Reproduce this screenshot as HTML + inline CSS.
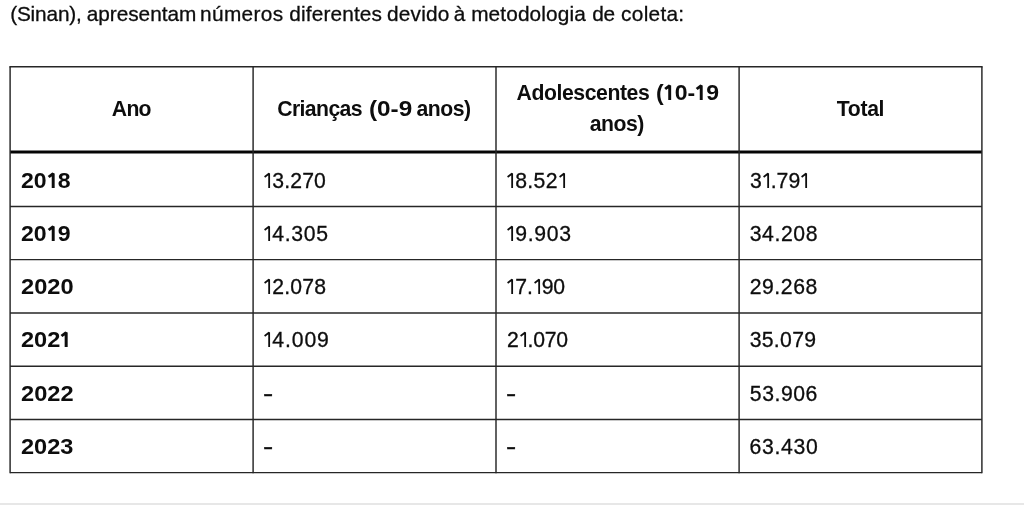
<!DOCTYPE html>
<html><head><meta charset="utf-8"><title>Tabela</title>
<style>
html,body{margin:0;padding:0;background:#fff;}
body{width:1024px;height:515px;overflow:hidden;position:relative;}
.wrap{position:absolute;left:0;top:0;width:1024px;height:515px;will-change:transform;}
.lines{position:absolute;left:0;top:0;}
.t{position:absolute;white-space:nowrap;font-family:"Liberation Sans",sans-serif;font-size:21.2px;line-height:31.2px;color:#0d0d0d;-webkit-text-stroke:0.3px #0d0d0d;}
.b{font-weight:bold;-webkit-text-stroke:0;}
.sm{font-size:20.8px;}
.o{vertical-align:baseline;fill:none;stroke:#0d0d0d;overflow:visible;}
.d{display:inline-block;transform:scaleX(1.45);transform-origin:0 0;}
</style></head>
<body>
<div class="wrap"><svg class="lines" width="1024" height="515" viewBox="0 0 1024 515" stroke="#262626"><line x1="9.375" y1="66.7" x2="982.625" y2="66.7" stroke-width="1.45"/><line x1="10.1" y1="152.0" x2="981.9" y2="152.0" stroke-width="3.0" stroke="#050505"/><line x1="10.1" y1="206.5" x2="981.9" y2="206.5" stroke-width="1.45"/><line x1="10.1" y1="259.6" x2="981.9" y2="259.6" stroke-width="1.45"/><line x1="10.1" y1="312.9" x2="981.9" y2="312.9" stroke-width="1.45"/><line x1="10.1" y1="366.2" x2="981.9" y2="366.2" stroke-width="1.45"/><line x1="10.1" y1="419.4" x2="981.9" y2="419.4" stroke-width="1.45"/><line x1="10.1" y1="472.6" x2="981.9" y2="472.6" stroke-width="1.45"/><line x1="10.1" y1="66.7" x2="10.1" y2="473.32500000000005" stroke-width="1.45"/><line x1="253.1" y1="66.7" x2="253.1" y2="473.32500000000005" stroke-width="1.45"/><line x1="496.0" y1="66.7" x2="496.0" y2="473.32500000000005" stroke-width="1.45"/><line x1="739.1" y1="66.7" x2="739.1" y2="473.32500000000005" stroke-width="1.45"/><line x1="981.9" y1="66.7" x2="981.9" y2="473.32500000000005" stroke-width="1.45"/><rect x="0" y="503" width="1024" height="2" fill="#e7e7e7" stroke="none"/></svg>
<div class="t sm" style="left:10.14px;top:-1.95px;letter-spacing:-0.154px">(Sinan),</div>
<div class="t sm" style="left:86.64px;top:-1.95px;letter-spacing:-0.011px">apresentam</div>
<div class="t sm" style="left:200.05px;top:-1.95px;letter-spacing:0.351px">números</div>
<div class="t sm" style="left:289.22px;top:-1.95px;letter-spacing:0.158px">diferentes</div>
<div class="t sm" style="left:386.90px;top:-1.95px;letter-spacing:0.246px">devido</div>
<div class="t sm" style="left:453.64px;top:-1.95px;letter-spacing:0.000px">à</div>
<div class="t sm" style="left:471.16px;top:-1.95px;letter-spacing:0.128px">metodologia</div>
<div class="t sm" style="left:592.37px;top:-1.95px;letter-spacing:-0.345px">de</div>
<div class="t sm" style="left:621.10px;top:-1.95px;letter-spacing:0.295px">coleta:</div>
<div class="t b" style="left:111.81px;top:92.85px;letter-spacing:-0.715px">Ano</div>
<div class="t b" style="left:277.17px;top:92.85px;letter-spacing:-0.581px">Crianças</div>
<div class="t b" style="left:369.40px;top:92.85px;transform:scaleX(1.1478);transform-origin:0 0">(0-9</div>
<div class="t b" style="left:416.60px;top:92.85px;letter-spacing:-0.542px">anos)</div>
<div class="t b" style="left:516.57px;top:77.15px;letter-spacing:-0.415px">Adolescentes</div>
<div class="t b" style="left:655.62px;top:77.15px;transform:scaleX(1.0874);transform-origin:0 0">(<svg class="o" width="10.2" height="16" viewBox="0 0 10.2 16"><path d="M1.4 5.0L5.60 1.6V16" stroke-width="2.7" stroke-linejoin="bevel"/></svg>0-<svg class="o" width="10.2" height="16" viewBox="0 0 10.2 16"><path d="M1.4 5.0L5.60 1.6V16" stroke-width="2.7" stroke-linejoin="bevel"/></svg>9</div>
<div class="t b" style="left:589.75px;top:108.25px;letter-spacing:-0.490px">anos)</div>
<div class="t b" style="left:836.76px;top:92.95px;letter-spacing:-0.325px">Total</div>
<div class="t b" style="left:20.80px;top:164.65px;transform:scaleX(1.0879);transform-origin:0 0">20<svg class="o" width="10.2" height="16" viewBox="0 0 10.2 16"><path d="M1.4 5.0L5.60 1.6V16" stroke-width="2.7" stroke-linejoin="bevel"/></svg>8</div>
<div class="t" style="left:263.19px;top:164.65px;letter-spacing:0.172px"><svg class="o" width="9.0" height="16" viewBox="0 0 9.0 16"><path d="M1.6 4.9L6.15 1.6V16" stroke-width="1.8" stroke-linejoin="bevel"/></svg>3.270</div>
<div class="t" style="left:506.19px;top:164.65px;letter-spacing:0.374px"><svg class="o" width="9.0" height="16" viewBox="0 0 9.0 16"><path d="M1.6 4.9L6.15 1.6V16" stroke-width="1.8" stroke-linejoin="bevel"/></svg>8.52<svg class="o" width="9.0" height="16" viewBox="0 0 9.0 16"><path d="M1.6 4.9L6.15 1.6V16" stroke-width="1.8" stroke-linejoin="bevel"/></svg></div>
<div class="t" style="left:749.88px;top:164.65px;letter-spacing:0.020px">3<svg class="o" width="9.0" height="16" viewBox="0 0 9.0 16"><path d="M1.6 4.9L6.15 1.6V16" stroke-width="1.8" stroke-linejoin="bevel"/></svg>.79<svg class="o" width="9.0" height="16" viewBox="0 0 9.0 16"><path d="M1.6 4.9L6.15 1.6V16" stroke-width="1.8" stroke-linejoin="bevel"/></svg></div>
<div class="t b" style="left:20.80px;top:217.90px;transform:scaleX(1.0884);transform-origin:0 0">20<svg class="o" width="10.2" height="16" viewBox="0 0 10.2 16"><path d="M1.4 5.0L5.60 1.6V16" stroke-width="2.7" stroke-linejoin="bevel"/></svg>9</div>
<div class="t" style="left:263.35px;top:217.90px;letter-spacing:0.656px"><svg class="o" width="9.0" height="16" viewBox="0 0 9.0 16"><path d="M1.6 4.9L6.15 1.6V16" stroke-width="1.8" stroke-linejoin="bevel"/></svg>4.305</div>
<div class="t" style="left:506.35px;top:217.90px;letter-spacing:0.645px"><svg class="o" width="9.0" height="16" viewBox="0 0 9.0 16"><path d="M1.6 4.9L6.15 1.6V16" stroke-width="1.8" stroke-linejoin="bevel"/></svg>9.903</div>
<div class="t" style="left:749.67px;top:217.90px;letter-spacing:0.610px">34.208</div>
<div class="t b" style="left:20.73px;top:271.15px;transform:scaleX(1.1153);transform-origin:0 0">2020</div>
<div class="t" style="left:263.35px;top:271.15px;letter-spacing:0.153px"><svg class="o" width="9.0" height="16" viewBox="0 0 9.0 16"><path d="M1.6 4.9L6.15 1.6V16" stroke-width="1.8" stroke-linejoin="bevel"/></svg>2.078</div>
<div class="t" style="left:506.35px;top:271.15px;letter-spacing:-0.202px"><svg class="o" width="9.0" height="16" viewBox="0 0 9.0 16"><path d="M1.6 4.9L6.15 1.6V16" stroke-width="1.8" stroke-linejoin="bevel"/></svg>7.<svg class="o" width="9.0" height="16" viewBox="0 0 9.0 16"><path d="M1.6 4.9L6.15 1.6V16" stroke-width="1.8" stroke-linejoin="bevel"/></svg>90</div>
<div class="t" style="left:749.65px;top:271.15px;letter-spacing:0.567px">29.268</div>
<div class="t b" style="left:20.74px;top:324.40px;transform:scaleX(1.1126);transform-origin:0 0">202<svg class="o" width="10.2" height="16" viewBox="0 0 10.2 16"><path d="M1.4 5.0L5.60 1.6V16" stroke-width="2.7" stroke-linejoin="bevel"/></svg></div>
<div class="t" style="left:263.35px;top:324.40px;letter-spacing:0.868px"><svg class="o" width="9.0" height="16" viewBox="0 0 9.0 16"><path d="M1.6 4.9L6.15 1.6V16" stroke-width="1.8" stroke-linejoin="bevel"/></svg>4.009</div>
<div class="t" style="left:507.08px;top:324.40px;letter-spacing:-0.270px">2<svg class="o" width="9.0" height="16" viewBox="0 0 9.0 16"><path d="M1.6 4.9L6.15 1.6V16" stroke-width="1.8" stroke-linejoin="bevel"/></svg>.070</div>
<div class="t" style="left:749.67px;top:324.40px;letter-spacing:0.310px">35.079</div>
<div class="t b" style="left:20.74px;top:377.65px;transform:scaleX(1.1140);transform-origin:0 0">2022</div>
<div class="t" style="left:263.49px;top:377.65px;letter-spacing:0.000px"><span class="d">-</span></div>
<div class="t" style="left:506.49px;top:377.65px;letter-spacing:0.000px"><span class="d">-</span></div>
<div class="t" style="left:749.83px;top:377.65px;letter-spacing:0.533px">53.906</div>
<div class="t b" style="left:20.73px;top:430.90px;transform:scaleX(1.1109);transform-origin:0 0">2023</div>
<div class="t" style="left:263.49px;top:430.90px;letter-spacing:0.000px"><span class="d">-</span></div>
<div class="t" style="left:506.49px;top:430.90px;letter-spacing:0.000px"><span class="d">-</span></div>
<div class="t" style="left:749.58px;top:430.90px;letter-spacing:0.685px">63.430</div>
</div>
</body></html>
